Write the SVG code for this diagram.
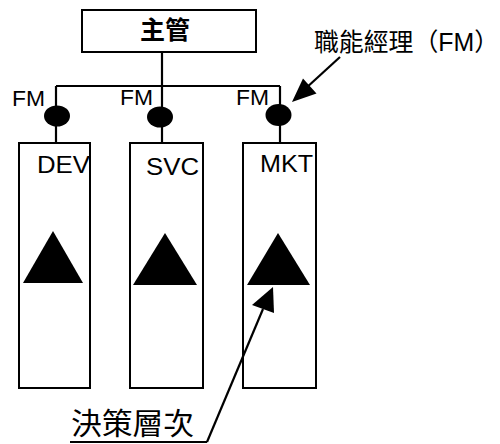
<svg xmlns="http://www.w3.org/2000/svg" width="500" height="444" viewBox="0 0 500 444">
<style>
.box{fill:#fff;stroke:#000;stroke-width:2}
.ln{stroke:#000;stroke-width:2.2;fill:none}
.lat{font-family:"Liberation Sans",Arial,sans-serif;fill:#000}
.cjk{font-family:"Liberation Sans","Noto Sans CJK TC",sans-serif;fill:#000}
</style>
<rect width="500" height="444" fill="#fff"/>
<g id="boss">
<rect class="box" x="82" y="10" width="174" height="42"/>
<text class="cjk" x="165" y="39" font-size="25" font-weight="bold" text-anchor="middle">主管</text>
</g>
<g id="dev">
<rect class="box" x="19" y="143" width="71" height="245"/>
<text class="lat" x="37" y="173" font-size="24" textLength="53" lengthAdjust="spacingAndGlyphs">DEV</text>
<polygon points="53,231 23,283 83,283" fill="#000"/>
</g>
<g id="svc">
<rect class="box" x="130" y="143" width="73" height="245"/>
<text class="lat" x="146" y="175" font-size="24" textLength="53" lengthAdjust="spacingAndGlyphs">SVC</text>
<polygon points="165,233 133,285 197,285" fill="#000"/>
</g>
<g id="mkt">
<rect class="box" x="243" y="143" width="73" height="245"/>
<text class="lat" x="260" y="172" font-size="24" textLength="53" lengthAdjust="spacingAndGlyphs">MKT</text>
<polygon points="278,233 247,285 310,285" fill="#000"/>
</g>
<g id="connectors">
<line class="ln" x1="162" y1="52" x2="162" y2="86"/>
<line class="ln" x1="56" y1="86" x2="280" y2="86"/>
<line class="ln" x1="56" y1="86" x2="56" y2="143"/>
<line class="ln" x1="162" y1="86" x2="162" y2="143"/>
<line class="ln" x1="280" y1="86" x2="280" y2="143"/>
<line class="ln" x1="340" y1="57" x2="305" y2="89"/>
<polygon points="292,102 303,78.5 316.5,93.5" fill="#000"/>
<line class="ln" x1="70" y1="442" x2="207" y2="442"/>
<line class="ln" x1="207" y1="442" x2="263" y2="309"/>
<polygon points="273,287 252,305 274,313" fill="#000"/>
</g>
<g id="fm1">
<ellipse cx="57" cy="116" rx="13" ry="10.5" fill="#000"/>
<text class="lat" x="12" y="106" font-size="22" textLength="33" lengthAdjust="spacingAndGlyphs">FM</text>
</g>
<g id="fm2">
<ellipse cx="160" cy="117" rx="13" ry="10.5" fill="#000"/>
<text class="lat" x="120" y="105" font-size="22" textLength="33" lengthAdjust="spacingAndGlyphs">FM</text>
</g>
<g id="fm3">
<ellipse cx="278.5" cy="115" rx="13" ry="11" fill="#000"/>
<text class="lat" x="236" y="105" font-size="22" textLength="33" lengthAdjust="spacingAndGlyphs">FM</text>
</g>
<g id="label-fm">
<text class="cjk" x="314" y="51" font-size="25" textLength="185" lengthAdjust="spacingAndGlyphs">職能經理（FM）</text>
</g>
<g id="label-decision">
<text class="cjk" x="71" y="434" font-size="30" textLength="123" lengthAdjust="spacingAndGlyphs">決策層次</text>
</g>
</svg>
